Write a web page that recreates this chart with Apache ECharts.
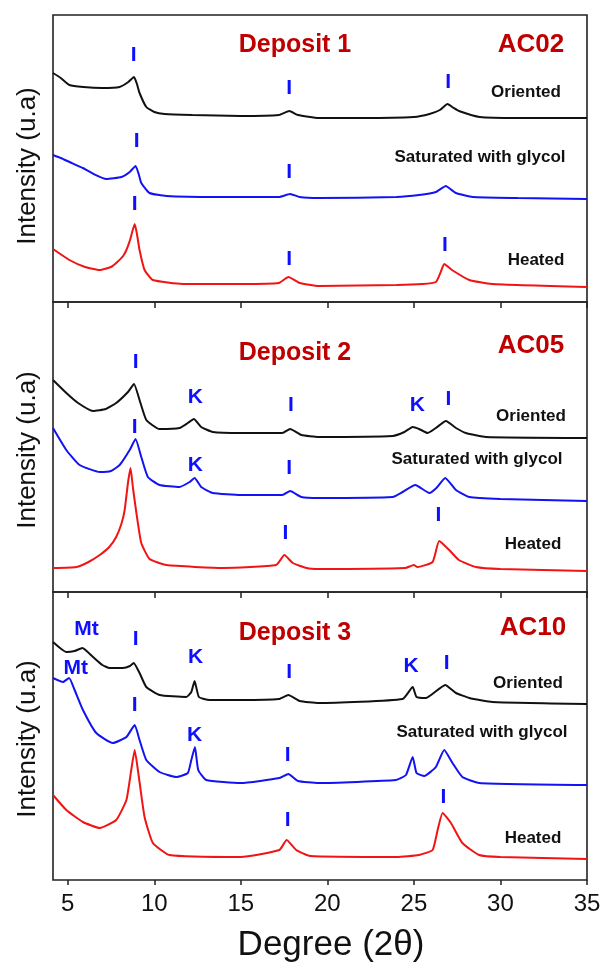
<!DOCTYPE html>
<html>
<head>
<meta charset="utf-8">
<script src="https://cdn.jsdelivr.net/npm/echarts@6/dist/echarts.min.js"></script>
<style>html,body{margin:0;padding:0;background:#fff}#c{width:601px;height:963px}</style>
</head>
<body>
<div id="c"></div>
<script>
// ---------- data (x = degree 2θ, y = intensity, arbitrary units) ----------
const xTicks = [5, 10, 15, 20, 25, 30, 35];
const panelTitles = ['Deposit 1', 'Deposit 2', 'Deposit 3'];
const sampleIds = ['AC02', 'AC05', 'AC10'];
const curveNames = ['Oriented', 'Saturated with glycol', 'Heated'];

const p1Oriented = [[4.15,229],[4.6,224],[5.1,217],[5.9,215],[7.0,214],[8.0,215],[8.5,220],[8.83,225],[9.0,218],[9.15,209],[9.54,195],[10.0,190],[10.6,188],[12.2,187],[15,186],[17.2,187],[17.8,191],[18.3,187],[19.5,184],[22,184],[25,185],[25.9,188],[26.5,192],[26.94,198],[27.3,194],[27.6,191],[28.8,185],[31,184],[35,184]];
const p1Glycol = [[4.15,147],[4.6,144],[5.1,140],[5.87,134],[6.5,128],[7.23,123],[8.1,125],[8.58,130],[8.92,136],[9.1,128],[9.25,119],[9.73,109],[10.7,106],[13.6,105],[17.2,105],[17.85,108],[18.4,105],[19.5,104],[24,105],[25.3,107],[26.27,110],[26.85,116],[27.1,113],[27.43,109],[28.4,105],[31,104],[35,103]];
const p1Heated = [[4.15,53],[5.1,42],[6.0,35],[6.85,32],[7.5,35],[7.8,39],[8.2,46],[8.39,52],[8.6,62],[8.87,78],[9.0,68],[9.15,52],[9.44,32],[9.92,22],[11.65,18],[15,18],[17.2,19],[17.75,25],[18.4,19],[19.5,16],[24,17],[25.5,18],[26.27,20],[26.55,30],[26.75,38],[27.2,32],[28.2,22],[29.5,18],[35,15]];

const p2Oriented = [[4.15,212],[4.92,199],[5.6,189],[6.46,181],[7.2,183],[7.8,189],[8.48,200],[8.83,208],[9.15,192],[9.54,172],[10.3,163],[11.46,164],[11.94,169],[12.29,173],[12.71,165],[13.38,160],[15,159],[17.4,159],[17.85,163],[18.5,157],[19.5,155],[23.77,156],[24.45,160],[24.93,165],[25.3,163],[25.8,159],[26.27,164],[26.85,171],[27.43,164],[28,159],[29.16,155],[35,154]];
const p2Glycol = [[4.15,164],[4.92,142],[5.69,127],[6.85,120],[7.5,121],[8.0,127],[8.58,142],[8.92,153],[9.25,135],[9.63,115],[10.3,107],[11.46,105],[12.04,110],[12.33,114],[12.71,105],[13.38,99],[15,97],[17.4,97],[17.85,101],[18.5,95],[19.5,94],[23.77,95],[24.35,100],[25.08,107],[25.89,99],[26.3,104],[26.81,114],[27.43,102],[28.2,95],[30,93],[35,91]];
const p2Heated = [[4.15,24],[5.5,25],[6.2,30],[6.85,37],[7.4,45],[7.8,55],[8.1,68],[8.29,82],[8.48,109],[8.63,124],[8.77,104],[8.96,80],[9.25,49],[9.73,33],[10.7,27],[14,24],[17.04,27],[17.52,37],[18.0,29],[18.8,24],[19.5,23],[24.5,24],[25.0,27],[25.2,25],[26.08,30],[26.46,51],[27.04,42],[27.6,32],[28.58,25],[30,23],[35,21]];

const p3Oriented = [[4.15,238],[4.92,228],[5.4,229],[5.85,232],[6.46,223],[7.0,215],[7.42,212],[8.19,212],[8.6,214],[8.81,217],[9.15,207],[9.54,193],[10.3,185],[11.85,183],[12.14,188],[12.33,199],[12.58,183],[13.19,180],[15,180],[17.2,181],[17.75,185],[18.4,179],[19.5,177],[24.35,181],[24.93,193],[25.15,183],[25.7,182],[26.81,195],[27.43,187],[28.2,182],[29.54,178],[35,176]];
const p3Glycol = [[4.15,202],[4.73,198],[5.08,202],[5.4,190],[5.88,170],[6.65,147],[7.61,137],[8.39,143],[8.87,155],[9.15,140],[9.54,120],[10.3,108],[11.27,103],[11.94,107],[12.14,120],[12.35,133],[12.54,110],[13.0,100],[15,97],[17.23,102],[17.75,106],[18.3,99],[19.5,97],[23.96,100],[24.54,105],[24.93,123],[25.15,107],[25.6,104],[26.27,113],[26.75,130],[27.23,117],[27.8,103],[28.77,97],[35,95]];
const p3Heated = [[4.15,85],[4.92,70],[5.88,58],[6.85,52],[7.8,60],[8.39,80],[8.67,110],[8.87,130],[9.11,103],[9.44,63],[9.92,37],[10.88,25],[15,23],[17.23,30],[17.65,40],[18.2,30],[19,24],[24,23],[25.3,25],[26.08,30],[26.37,50],[26.66,67],[27.14,57],[27.8,37],[28.77,25],[30,23],[35,21]];

// peak identification labels: [degree, intensity, text]
const p1Peaks = [[8.81,247,'I'],[8.98,161,'I'],[8.87,98,'I'],[17.8,214,'I'],[17.8,130,'I'],[17.8,43,'I'],[26.98,220,'I'],[26.79,57,'I']];
const p2Peaks = [[8.92,230,'I'],[12.37,195,'K'],[17.9,187,'I'],[25.2,187,'K'],[27.0,193,'I'],[8.87,165,'I'],[12.37,127,'K'],[17.8,124,'I'],[17.58,59,'I'],[26.42,77,'I']];
const p3Peaks = [[6.08,251,'Mt'],[5.46,212,'Mt'],[8.92,241,'I'],[8.87,175,'I'],[12.39,223,'K'],[12.33,145,'K'],[17.8,208,'I'],[17.71,125,'I'],[17.71,60,'I'],[24.83,214,'K'],[26.89,217,'I'],[26.71,83,'I']];

const yMaxes = [287, 290, 288];
const xMin = 4.15, xMax = 35;

// ---------- layout ----------
const FONT = '"Liberation Sans", Arial, sans-serif';
const panels = [
  {top: 15, height: 287, curves: [p1Oriented, p1Glycol, p1Heated], peaks: p1Peaks,
   title: [295, 45], id: [531, 45], lab: [[526, 92], [480, 157], [536, 260]], ylab: 166},
  {top: 302, height: 290, curves: [p2Oriented, p2Glycol, p2Heated], peaks: p2Peaks,
   title: [295, 353], id: [531, 346], lab: [[531, 416], [477, 459], [533, 544]], ylab: 450},
  {top: 592, height: 288, curves: [p3Oriented, p3Glycol, p3Heated], peaks: p3Peaks,
   title: [295, 633], id: [533, 628], lab: [[528, 683], [482, 732], [533, 838]], ylab: 739}
];
const curveColors = ['#111111', '#1212f2', '#f01414'];

const grid = [], xAxis = [], yAxis = [], series = [], graphic = [];
panels.forEach((p, i) => {
  grid.push({left: 53, right: 14, top: p.top, height: p.height, show: true,
             outerBoundsMode: 'none', containLabel: false,
             borderColor: '#222', borderWidth: 1.6, backgroundColor: 'transparent'});
  const last = i === panels.length - 1;
  xAxis.push({type: 'value', gridIndex: i, position: 'bottom', min: xMin, max: xMax,
    axisLine: {show: false}, splitLine: {show: false},
    axisTick: {show: last, inside: false, length: 5, lineStyle: {color: '#222', width: 1.5},
               customValues: xTicks},
    axisLabel: {show: last, fontSize: 24, color: '#111', fontFamily: FONT, margin: 12,
                customValues: xTicks}});
  xAxis.push({type: 'value', gridIndex: i, position: 'top', min: xMin, max: xMax,
    axisLine: {show: false}, splitLine: {show: false},
    axisTick: {show: i > 0, inside: true, length: 6, lineStyle: {color: '#222', width: 1.5},
               customValues: xTicks},
    axisLabel: {show: false}});
  yAxis.push({type: 'value', gridIndex: i, min: 0, max: yMaxes[i],
    axisLine: {show: false}, axisTick: {show: false}, axisLabel: {show: false}, splitLine: {show: false}});
  p.curves.forEach((c, k) => {
    series.push({type: 'line', name: curveNames[k], xAxisIndex: i * 2, yAxisIndex: i,
      data: c, showSymbol: false, smooth: 0.15, silent: true,
      lineStyle: {color: curveColors[k], width: 2}});
  });
  series.push({type: 'scatter', xAxisIndex: i * 2, yAxisIndex: i, symbolSize: 1, silent: true,
    itemStyle: {color: 'rgba(0,0,0,0)', opacity: 1},
    data: p.peaks.map(d => ({name: d[2], value: [d[0], d[1]]})),
    label: {show: true, position: 'inside', formatter: '{b}', color: '#0f0fff', opacity: 1,
            fontSize: 21, fontWeight: 'bold', fontFamily: FONT}});
  graphic.push({type: 'text', x: p.title[0], y: p.title[1],
    style: {text: panelTitles[i], fill: '#c00000', font: 'bold 25px ' + FONT, align: 'center', verticalAlign: 'middle'}});
  graphic.push({type: 'text', x: p.id[0], y: p.id[1],
    style: {text: sampleIds[i], fill: '#c00000', font: 'bold 26px ' + FONT, align: 'center', verticalAlign: 'middle'}});
  p.lab.forEach((pos, k) => {
    graphic.push({type: 'text', x: pos[0], y: pos[1],
      style: {text: curveNames[k], fill: '#111', font: 'bold 17px ' + FONT, align: 'center', verticalAlign: 'middle'}});
  });
  graphic.push({type: 'text', x: 28, y: p.ylab, rotation: Math.PI / 2,
    style: {text: 'Intensity (u.a)', fill: '#111', font: '26px ' + FONT, align: 'center', verticalAlign: 'middle'}});
});
graphic.push({type: 'text', x: 331, y: 945,
  style: {text: 'Degree (2θ)', fill: '#111', font: '35px ' + FONT, align: 'center', verticalAlign: 'middle'}});

const chart = echarts.init(document.getElementById('c'), null, {renderer: 'canvas'});
chart.setOption({animation: false, backgroundColor: '#fff', grid, xAxis, yAxis, series, graphic});
</script>
</body>
</html>
